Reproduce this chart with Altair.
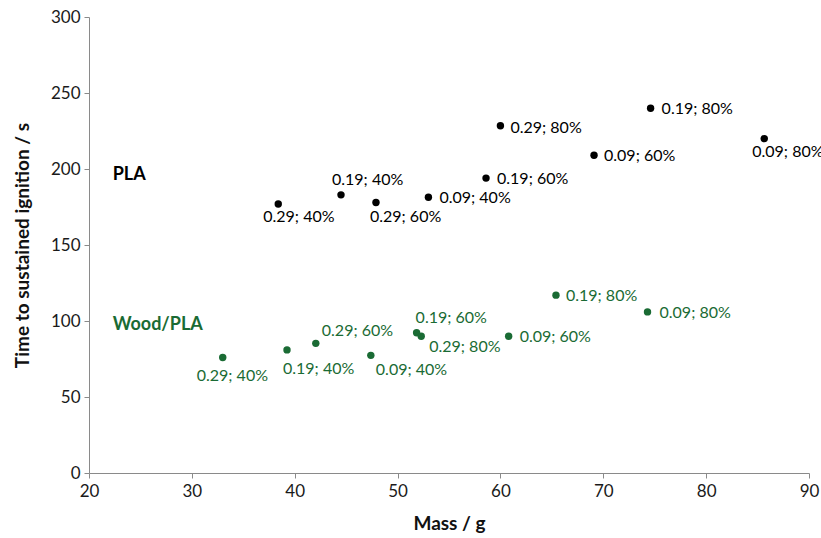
import altair as alt
import pandas as pd

# ---- data ----
pla_mass = [38.4, 44.5, 47.9, 53.0, 58.6, 60.0, 69.1, 74.6, 85.65]
pla_time = [177, 183, 178, 181.4, 194, 228.5, 209, 240, 220]
pla_labels = ["0.29; 40%", "0.19; 40%", "0.29; 60%", "0.09; 40%", "0.19; 60%",
              "0.29; 80%", "0.09; 60%", "0.19; 80%", "0.09; 80%"]

wood_mass = [33.0, 39.25, 42.05, 47.4, 51.85, 52.3, 60.8, 65.4, 74.3]
wood_time = [76, 81, 85.3, 77.4, 92.3, 90, 90, 117, 106]
wood_labels = ["0.29; 40%", "0.19; 40%", "0.29; 60%", "0.09; 40%", "0.19; 60%",
               "0.29; 80%", "0.09; 60%", "0.19; 80%", "0.09; 80%"]

series_names = ["PLA", "Wood/PLA"]
series_colors = ["#000000", "#1a6b34"]

# ---- label placement (style: pixel offsets, left-aligned text) ----
pla_offsets = [(-15, 13), (-9, -15), (-6, 15), (11, 1), (11, 1),
               (10, 2), (10, 1), (11, 1), (-12, 13)]
wood_offsets = [(-26, 19), (-4, 19), (6, -12), (5, 15), (-1, -15),
                (8, 11), (11, 1), (10, 1), (12, 1)]

FONT = "Lato"

rows = []
for name, masses, times, labels in [("PLA", pla_mass, pla_time, pla_labels),
                                    ("Wood/PLA", wood_mass, wood_time, wood_labels)]:
    for i, (m, t, l) in enumerate(zip(masses, times, labels)):
        rows.append({"series": name, "mass": m, "time": t, "label": l, "idx": i})
df = pd.DataFrame(rows)

xscale = alt.Scale(domain=[20, 90], nice=False, zero=False)
yscale = alt.Scale(domain=[0, 300], nice=False)
cscale = alt.Scale(domain=series_names, range=series_colors)

base = alt.Chart(df)

points = base.mark_circle(size=55, opacity=1).encode(
    x=alt.X("mass:Q", scale=xscale, title="Mass / g",
            axis=alt.Axis(values=[20, 30, 40, 50, 60, 70, 80, 90], grid=False,
                          domainColor="#8a8a8a", tickColor="#8a8a8a", tickSize=5,
                          labelFont=FONT, labelFontSize=17, labelColor="#1a1a1a",
                          labelPadding=5, labelFlush=False,
                          titleFont=FONT, titleFontSize=19, titleFontWeight="bold",
                          titleColor="#111111", titleY=50, titleBaseline="middle")),
    y=alt.Y("time:Q", scale=yscale, title="Time to sustained ignition / s",
            axis=alt.Axis(values=[0, 50, 100, 150, 200, 250, 300], grid=False,
                          domainColor="#8a8a8a", tickColor="#8a8a8a", tickSize=5,
                          labelFont=FONT, labelFontSize=17, labelColor="#1a1a1a",
                          labelPadding=4,
                          titleFont=FONT, titleFontSize=19, titleFontWeight="bold",
                          titleColor="#111111", titleX=-67, titleY=228,
                          titleAngle=270, titleAlign="center", titleBaseline="middle")),
    color=alt.Color("series:N", scale=cscale, legend=None),
)

layers = [points]
for name, offsets in [("PLA", pla_offsets), ("Wood/PLA", wood_offsets)]:
    for i, (dx, dy) in enumerate(offsets):
        layers.append(
            base.transform_filter(
                (alt.datum.series == name) & (alt.datum.idx == i)
            ).mark_text(align="left", baseline="middle", dx=dx, dy=dy,
                        font=FONT, fontSize=16).encode(
                x=alt.X("mass:Q", scale=xscale),
                y=alt.Y("time:Q", scale=yscale),
                text="label:N",
                color=alt.Color("series:N", scale=cscale, legend=None),
            )
        )

# series annotations
ann_df = pd.DataFrame({"name": series_names, "mass": [22.3, 22.3], "time": [196, 97.5]})
ann = alt.Chart(ann_df).mark_text(align="left", baseline="middle", font=FONT,
                                  fontSize=18, fontWeight="bold").encode(
    x=alt.X("mass:Q", scale=xscale),
    y=alt.Y("time:Q", scale=yscale),
    text="name:N",
    color=alt.Color("name:N", scale=cscale, legend=None),
)
layers.append(ann)

chart = alt.layer(*layers).properties(
    width=720, height=456,
    autosize=alt.AutoSizeParams(type="none"),
    padding={"left": 89, "top": 17, "right": 12, "bottom": 65},
    background="white",
).configure_view(stroke=None)

chart.save("out.html", embed_options={"renderer": "svg", "actions": False})
